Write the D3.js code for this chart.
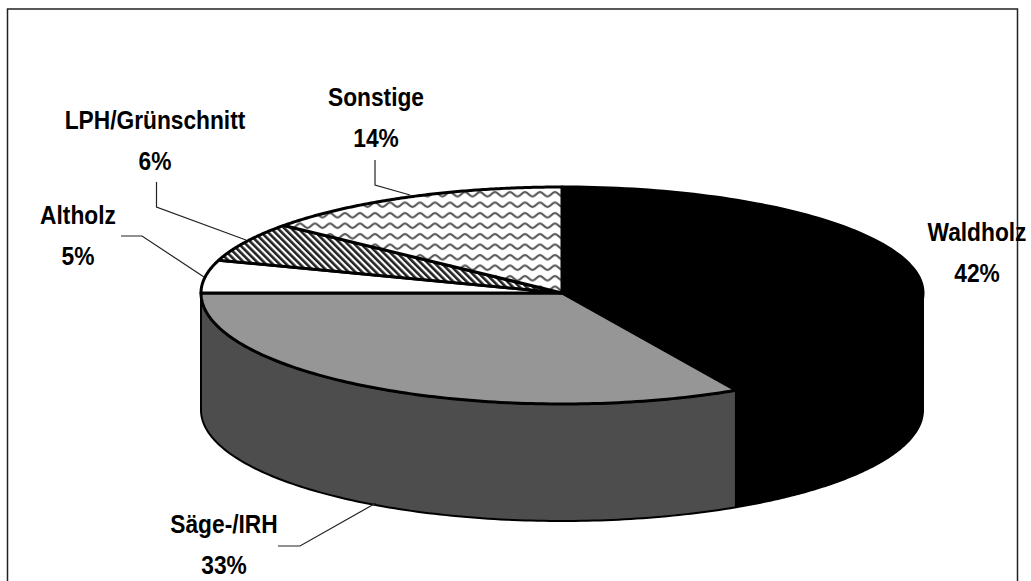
<!DOCTYPE html>
<html>
<head>
<meta charset="utf-8">
<script src="https://cdn.jsdelivr.net/npm/d3@7/dist/d3.min.js"></script>
<style>
html, body { margin: 0; padding: 0; background: #fff; }
svg { display: block; }
text { font-family: "Liberation Sans", Arial, sans-serif; font-weight: bold; font-size: 25px; fill: #000; text-anchor: middle; }
</style>
</head>
<body>
<svg width="1031" height="581"></svg>
<script>
const categories = ["Waldholz", "Säge-/IRH", "Altholz", "LPH/Grünschnitt", "Sonstige"];
const shares = [42, 33, 5, 6, 14];

// label centres and leader lines, same order as categories
const labelPos = [[977, 232], [224, 524], [78, 215], [155, 120], [376, 97]];
const leaders = [
    null,
    [[278, 546], [300, 546], [376, 503]],
    [[121, 236], [142, 236], [204, 277]],
    [[156.5, 182], [156.5, 207], [246, 240]],
    [[375, 160], [375, 185], [410, 195]]
];

const width = 1031;
const height = 581;
const depth = 117;

const svg = d3.select("svg");
const defs = svg.append("defs");

const hatch = defs.append("pattern")
    .attr("id", "hatch")
    .attr("patternUnits", "userSpaceOnUse")
    .attr("width", 4.8)
    .attr("height", 4.8)
    .attr("patternTransform", "rotate(-45)");
hatch.append("rect").attr("width", 4.8).attr("height", 4.8).attr("fill", "#fff");
hatch.append("rect").attr("width", 2.6).attr("height", 4.8).attr("fill", "#222");

const wave = defs.append("pattern")
    .attr("id", "wave")
    .attr("patternUnits", "userSpaceOnUse")
    .attr("width", 15)
    .attr("height", 10.5);
wave.append("rect").attr("width", 15).attr("height", 10.5).attr("fill", "#fff");
wave.append("path")
    .attr("d", "M0,3 C3,3 4.5,7.5 7.5,7.5 C10.5,7.5 12,3 15,3")
    .attr("fill", "none")
    .attr("stroke", "#555")
    .attr("stroke-width", 2.2);

const fills = ["#000", "#969696", "#fff", "url(#hatch)", "url(#wave)"];
const wallFills = ["#000", "#4d4d4d"];

// frame runs off the bottom of the picture
svg.append("path")
    .attr("d", "M7.5,581 V9 H1017.5 V581")
    .attr("fill", "none")
    .attr("stroke", "#222")
    .attr("stroke-width", 1.5);

const x = d3.scaleLinear().domain([-1, 1]).range([201, 923]);
const y = d3.scaleLinear().domain([-1, 0, 1]).range([187, 293, 404]);

const pie = d3.pie().sort(null).value(d => d)(shares);

const rim = a => [x(Math.sin(a)), y(-Math.cos(a))];
const arcPoints = (a0, a1) => d3.range(0, 121).map(i => rim(a0 + (a1 - a0) * i / 120));
const line = d3.line();

// side wall, only the part facing the viewer
pie.forEach((d, i) => {
    const a0 = Math.max(d.startAngle, Math.PI / 2);
    const a1 = Math.min(d.endAngle, 3 * Math.PI / 2);
    if (a1 <= a0) return;
    const top = arcPoints(a0, a1);
    const bottom = top.map(p => [p[0], p[1] + depth]).reverse();
    svg.append("path")
        .attr("d", line(top.concat(bottom)) + "Z")
        .attr("fill", wallFills[i])
        .attr("stroke", "#000")
        .attr("stroke-width", 2)
        .attr("stroke-linejoin", "round");
});

// top face
svg.append("g")
    .selectAll("path")
    .data(pie)
    .join("path")
    .attr("d", d => line([[x(0), y(0)]].concat(arcPoints(d.startAngle, d.endAngle))) + "Z")
    .attr("fill", (d, i) => fills[i])
    .attr("stroke", "#000")
    .attr("stroke-width", 3)
    .attr("stroke-linejoin", "round");

svg.append("g")
    .selectAll("path")
    .data(leaders.filter(d => d))
    .join("path")
    .attr("d", line)
    .attr("fill", "none")
    .attr("stroke", "#222")
    .attr("stroke-width", 1.2);

// the original type is tall and narrow, so squeeze it sideways
const label = svg.append("g")
    .selectAll("g")
    .data(categories)
    .join("g")
    .attr("transform", (d, i) => `translate(${labelPos[i][0]},${labelPos[i][1]}) scale(0.91,1)`);

label.append("text")
    .attr("dy", "0.36em")
    .text(d => d);

label.append("text")
    .attr("y", 41)
    .attr("dy", "0.36em")
    .text((d, i) => shares[i] + "%");
</script>
</body>
</html>
